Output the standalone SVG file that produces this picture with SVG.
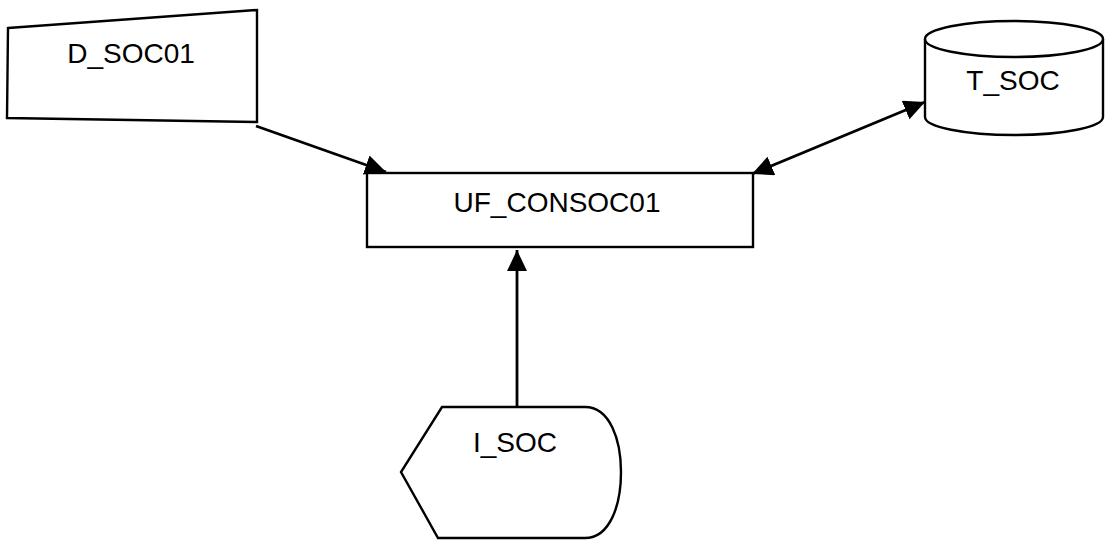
<svg xmlns="http://www.w3.org/2000/svg" width="1111" height="541" viewBox="0 0 1111 541">
<style>
.shape{fill:#fff;stroke:#000;stroke-width:2.4}
.lbl{font-family:"Liberation Sans",Arial,sans-serif;font-size:28px;fill:#000;text-anchor:middle}
.conn{fill:none;stroke:#000;stroke-width:2.8}
</style>
<defs>
<marker id="ah" markerUnits="userSpaceOnUse" markerWidth="24" markerHeight="20" refX="21" refY="10" orient="auto-start-reverse">
<path d="M0,0 L21,10 L0,20 Z" fill="#000"/>
</marker>
</defs>
<rect width="1111" height="541" fill="#fff"/>
<g id="D_SOC01">
<path class="shape" d="M8,28 L257,10 L257,122 L7,118 Z"/>
<text class="lbl" x="131" y="63">D_SOC01</text>
</g>
<g id="T_SOC">
<path class="shape" d="M925,39 L925,117 A89,18 0 0 0 1103,117 L1103,39"/>
<ellipse class="shape" cx="1014" cy="39" rx="89" ry="18"/>
<text class="lbl" x="1013" y="90">T_SOC</text>
</g>
<g id="UF_CONSOC01">
<rect class="shape" x="367" y="173" width="386" height="74"/>
<text class="lbl" x="557" y="212">UF_CONSOC01</text>
</g>
<g id="I_SOC">
<path class="shape" d="M442,407 L585,407 C610,407 621,440 621,472 C621,505 610,538 585,538 L438,538 L401,472 Z"/>
<text class="lbl" x="515" y="452">I_SOC</text>
</g>
<g id="connectors">
<line class="conn" x1="256" y1="126" x2="386" y2="172" marker-end="url(#ah)"/>
<line class="conn" x1="752" y1="174" x2="925" y2="102" marker-start="url(#ah)" marker-end="url(#ah)"/>
<line class="conn" x1="517" y1="407" x2="517" y2="250" marker-end="url(#ah)"/>
</g>
</svg>
